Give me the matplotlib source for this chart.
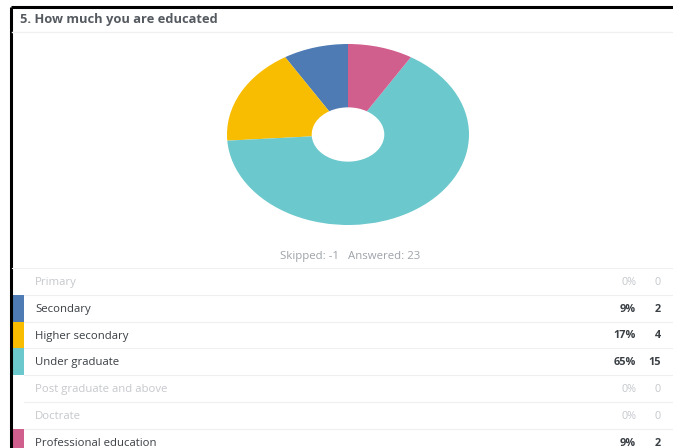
import matplotlib
matplotlib.use("Agg")
import matplotlib.pyplot as plt
from matplotlib.patches import Rectangle

# survey answers
categories = ["Primary", "Secondary", "Higher secondary", "Under graduate",
              "Post graduate and above", "Doctrate", "Professional education"]
counts = [0, 2, 4, 15, 0, 0, 2]
percents = ["0%", "9%", "17%", "65%", "0%", "0%", "9%"]
colors = ["#9aa9c9", "#4e7bb4", "#f8bd00", "#6bc8cc", "#999999", "#999999", "#d15f8e"]
title = "5. How much you are educated"
summary = "Skipped: -1   Answered: 23"

plt.rcParams["font.family"] = ["Open Sans", "DejaVu Sans"]

W, H = 673, 448
fig = plt.figure(figsize=(W / 100, H / 100), dpi=100)
fig.patch.set_facecolor("white")

# pixel-space background axes for the table, borders and text
bg = fig.add_axes([0, 0, 1, 1])
bg.set_xlim(0, W)
bg.set_ylim(H, 0)
bg.axis("off")

# black frame (top and left)
bg.plot([11, W], [7, 7], color="black", lw=2.2, solid_capstyle="butt")
bg.plot([11, 11], [7, H], color="black", lw=2.2, solid_capstyle="butt")

bg.text(20, 19, title, fontsize=9.3, fontweight="bold", color="#555a60",
        va="center", ha="left")
bg.plot([12, W], [32, 32], color="#f0f0f0", lw=1)

bg.text(350, 256, summary, fontsize=8.2, color="#9ea3a8", va="center", ha="center")

# table rows
top = 268
row_h = 26.8
bg.plot([12, W], [top, top], color="#efefef", lw=0.8)
for i, (cat, n, p) in enumerate(zip(categories, counts, percents)):
    y0 = top + i * row_h
    yc = y0 + row_h / 2 + 1
    active = n > 0
    if active:
        bg.add_patch(Rectangle((12, y0), 12, row_h, color=colors[i], lw=0))
    tc = "#3a3f44" if active else "#c5c8cc"
    bg.text(35, yc, cat, fontsize=8.2, color=tc, va="center", ha="left")
    bg.text(636, yc, p, fontsize=7.8, color=tc, va="center", ha="right",
            fontweight="bold" if active else "normal")
    bg.text(661, yc, str(n), fontsize=7.8, color=tc, va="center", ha="right",
            fontweight="bold" if active else "normal")
    if i < len(categories) - 1:
        bg.plot([24, W], [y0 + row_h, y0 + row_h], color="#efefef", lw=0.8)

# donut chart (elliptical)
pie_vals = [n for n in counts if n > 0]
pie_cols = [c for c, n in zip(colors, counts) if n > 0]
ax = fig.add_axes([227 / W, 1 - 225 / H, 242 / W, 181 / H])
ax.pie(pie_vals, colors=pie_cols, startangle=90, counterclock=True,
       wedgeprops=dict(width=0.7, edgecolor="none"))
ax.set_aspect("auto")
ax.set_xlim(-1, 1)
ax.set_ylim(-1, 1)
ax.axis("off")

fig.savefig("out.png", dpi=100)
